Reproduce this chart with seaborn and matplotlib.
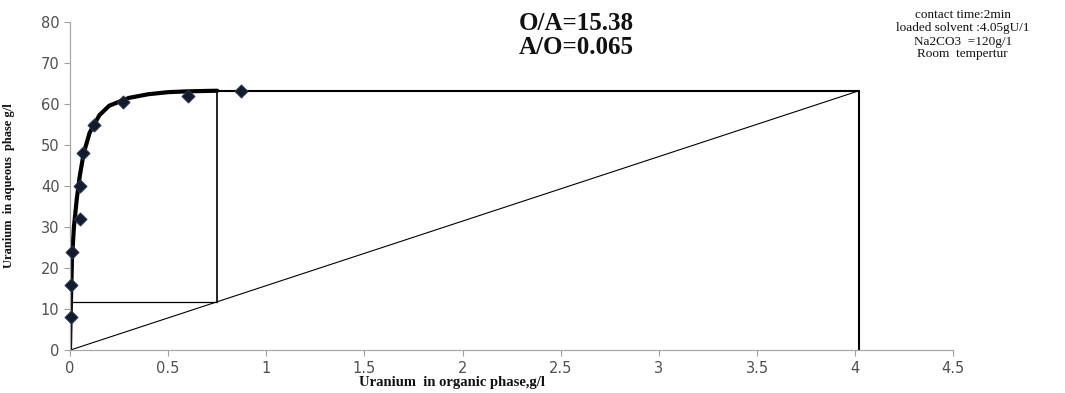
import matplotlib
matplotlib.use("Agg")
import matplotlib.pyplot as plt
import seaborn as sns
import pandas as pd

# Equilibrium data (stripping isotherm)
org_u = [0.004, 0.006, 0.008, 0.05, 0.05, 0.064, 0.123, 0.27, 0.60, 0.872]
aq_u = [8.0, 16.0, 24.0, 32.0, 40.0, 48.0, 55.0, 60.6, 62.0, 63.25]

# Smoothed isotherm curve
curve_x = [0.0, 0.004, 0.01, 0.02, 0.035, 0.05, 0.07, 0.10, 0.15, 0.20, 0.30, 0.40, 0.50, 0.60, 0.75]
curve_y = [0.0, 10.0, 22.0, 30.0, 37.0, 42.5, 48.0, 53.0, 57.3, 59.6, 61.5, 62.4, 62.9, 63.1, 63.25]

# Operating line and McCabe-Thiele construction
op_x = [0.0, 4.02]
op_y = [0.0, 63.25]
top_x = [0.75, 4.02]
top_y = [63.25, 63.25]
end_x = [4.02, 4.02]
end_y = [0.0, 63.25]
step_vx = [0.75, 0.75]
step_vy = [11.8, 63.25]
step_hx = [0.0, 0.75]
step_hy = [11.8, 11.8]

x_ticks = [0, 0.5, 1, 1.5, 2, 2.5, 3, 3.5, 4, 4.5]
x_ticklabels = ["0", "0.5", "1", "1.5", "2", "2.5", "3", "3.5", "4", "4.5"]
y_ticks = [0, 10, 20, 30, 40, 50, 60, 70, 80]

sns.set_theme(style="white")
plt.rcParams["font.family"] = ["DejaVu Sans"]

fig = plt.figure(figsize=(10.65, 3.93), dpi=100)
ax = fig.add_axes([0.0657, 0.109, 0.8295, 0.835])

def seg(xs, ys, lw):
    sns.lineplot(data=pd.DataFrame({"x": xs, "y": ys}), x="x", y="y", ax=ax,
                 color="black", linewidth=lw, sort=False, estimator=None)

seg(op_x, op_y, 0.8)
seg(step_hx, step_hy, 0.9)
seg(step_vx, step_vy, 1.2)
seg(top_x, top_y, 1.5)
seg(end_x, end_y, 1.5)
seg(curve_x, curve_y, 3.0)

sns.scatterplot(data=pd.DataFrame({"x": org_u, "y": aq_u}), x="x", y="y", ax=ax,
                marker="D", s=45, color="#141c2c", edgecolor="#2a3a5a", linewidth=0.6,
                zorder=5, clip_on=False)

ax.set_xlim(0, 4.5)
ax.set_ylim(0, 80)
ax.set_xticks(x_ticks)
ax.set_xticklabels(x_ticklabels)
ax.set_yticks(y_ticks)
ax.tick_params(axis="both", which="major", labelsize=10.5, labelcolor="#505050",
               color="#a0a0a0", length=4, width=0.8, direction="out",
               bottom=True, left=True)
for side in ["top", "right"]:
    ax.spines[side].set_visible(False)
for side in ["left", "bottom"]:
    ax.spines[side].set_color("#a8a8a8")
    ax.spines[side].set_linewidth(0.9)

ax.set_xlabel("")
fig.text(0.424, 0.026, "Uranium  in organic phase,g/l", family="Liberation Serif",
         fontweight="bold", fontsize=10.5, ha="center", va="center", color="#111111")
ax.set_ylabel("Uranium  in aqueous  phase g/l", family="Liberation Serif",
              fontweight="bold", fontsize=9, color="#111111")
ax.yaxis.set_label_coords(-0.062, 0.50)

fig.text(0.541, 0.939, "O/A=15.38", family="Liberation Serif", fontweight="bold",
         fontsize=18, ha="center", va="center", color="#111111")
fig.text(0.541, 0.880, "A/O=0.065", family="Liberation Serif", fontweight="bold",
         fontsize=18, ha="center", va="center", color="#111111")

info = ["contact time:2min", "loaded solvent :4.05gU/1", "Na2CO3  =120g/1", "Room  tempertur"]
info_y = [0.962, 0.928, 0.894, 0.862]
for line, yy in zip(info, info_y):
    fig.text(0.904, yy, line, family="Liberation Serif",
             fontsize=9.5, ha="center", va="center", color="#111111")

fig.savefig("out.png", dpi=100)
